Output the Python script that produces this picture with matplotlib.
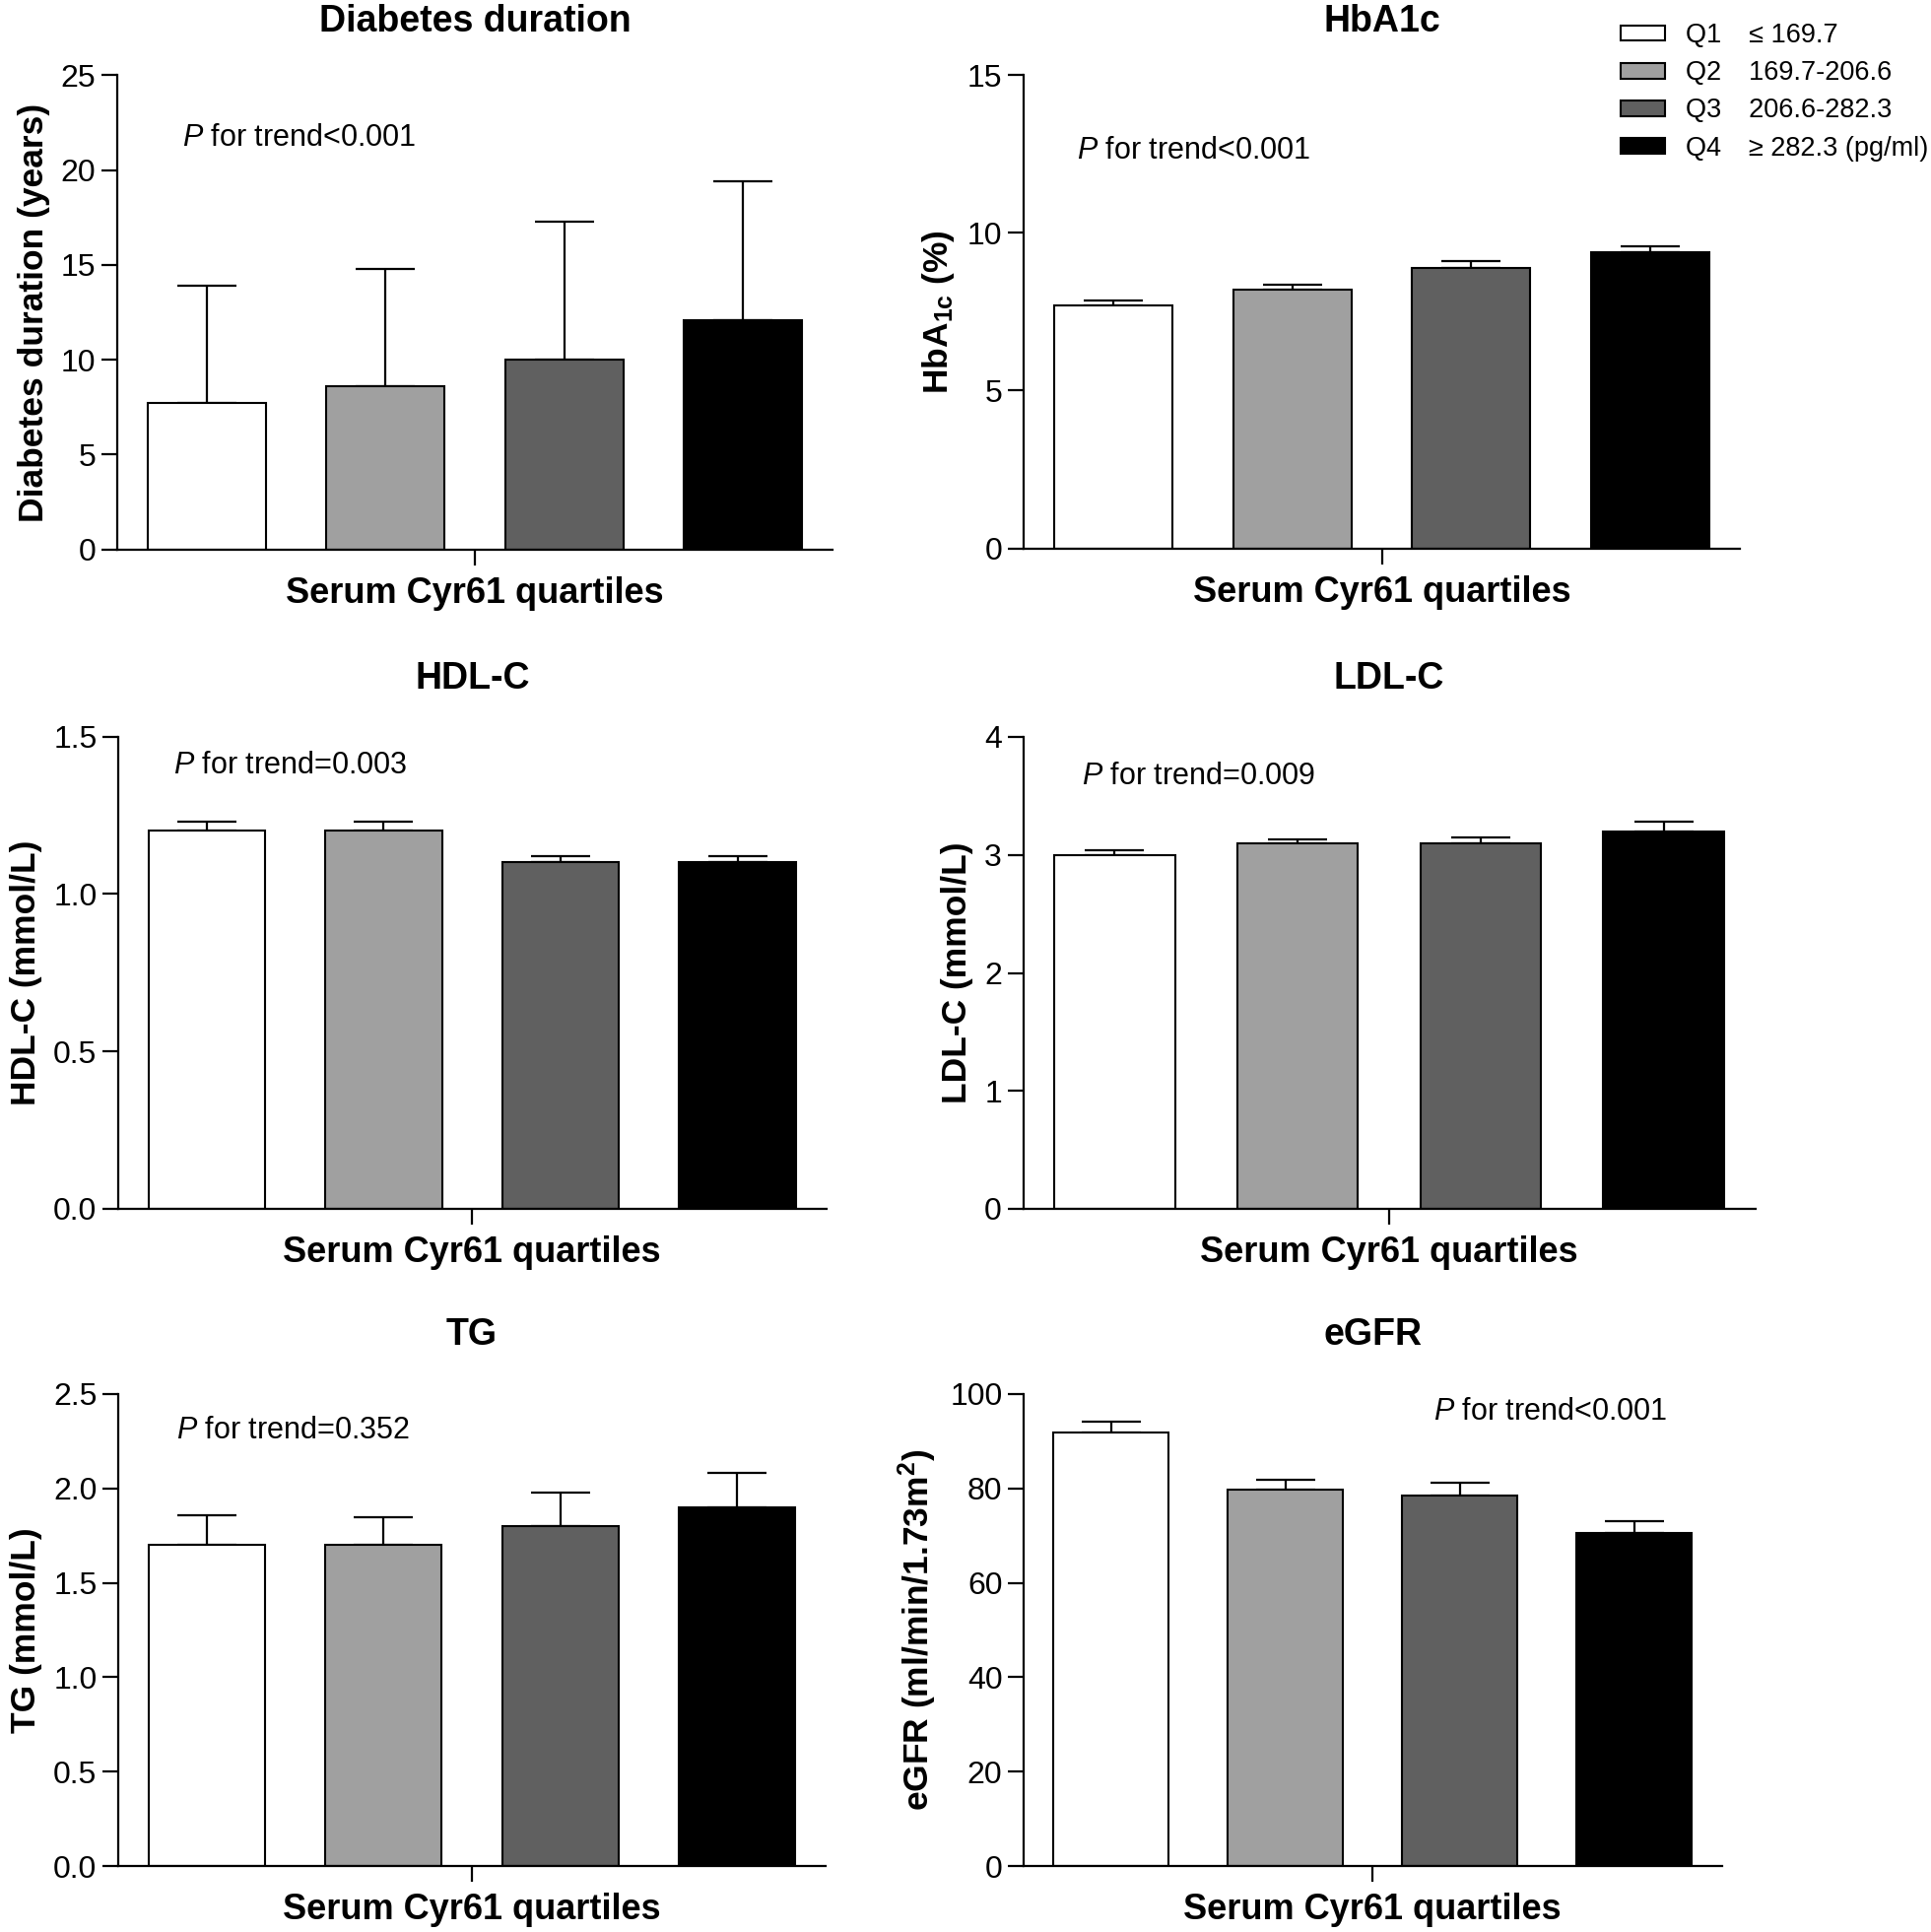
import numpy as np
import matplotlib
matplotlib.use("Agg")
import matplotlib.pyplot as plt
from matplotlib.patches import Patch

plt.rcParams['font.family'] = ['Liberation Sans', 'DejaVu Sans']
plt.rcParams['mathtext.fontset'] = 'custom'
plt.rcParams['mathtext.rm'] = 'Liberation Sans'
plt.rcParams['mathtext.bf'] = 'Liberation Sans:bold'
plt.rcParams['mathtext.it'] = 'Liberation Sans:italic'

# datos
cuartiles = ['Q1', 'Q2', 'Q3', 'Q4']
rangos = ['\u2264 169.7', '169.7-206.6', '206.6-282.3', '\u2265 282.3 (pg/ml)']
colores = ['#ffffff', '#a0a0a0', '#606060', '#000000']

dur_media = [7.7, 8.6, 10.0, 12.1]
dur_err = [6.2, 6.2, 7.3, 7.3]
hba_media = [7.7, 8.2, 8.9, 9.4]
hba_err = [0.15, 0.15, 0.2, 0.17]
hdl_media = [1.2, 1.2, 1.1, 1.1]
hdl_err = [0.03, 0.03, 0.02, 0.02]
ldl_media = [3.0, 3.1, 3.1, 3.2]
ldl_err = [0.04, 0.03, 0.05, 0.08]
tg_media = [1.7, 1.7, 1.8, 1.9]
tg_err = [0.16, 0.15, 0.18, 0.18]
egfr_media = [91.8, 79.7, 78.6, 70.6]
egfr_err = [2.4, 2.1, 2.6, 2.4]

W, H = 1960, 1961

paneles = [
    # titulo, ylabel, medias, errores, ymax, paso, texto P, caja (x0, x1, ytop, ybot), pos texto, pad titulo
    ('Diabetes duration', 'Diabetes duration (years)', dur_media, dur_err, 25, 5,
     'for trend<0.001', (119, 845, 76.5, 557.5), (0.091, 0.851), 32),
    ('HbA1c', r'HbA$_{\mathbf{1c}}$ (%)', hba_media, hba_err, 15, 5,
     'for trend<0.001', (1039, 1766, 76.5, 556.5), (0.074, 0.824), 32),
    ('HDL-C', 'HDL-C (mmol/L)', hdl_media, hdl_err, 1.5, 0.5,
     'for trend=0.003', (120, 838.5, 747.5, 1227), (0.078, 0.922), 35),
    ('LDL-C', 'LDL-C (mmol/L)', ldl_media, ldl_err, 4, 1,
     'for trend=0.009', (1038.5, 1781.5, 748, 1227), (0.080, 0.899), 35),
    ('TG', 'TG (mmol/L)', tg_media, tg_err, 2.5, 0.5,
     'for trend=0.352', (120, 838, 1415, 1894), (0.082, 0.907), 36),
    ('eGFR', r'eGFR (ml/min/1.73m$^{\mathbf{2}}$)', egfr_media, egfr_err, 100, 20,
     'for trend<0.001', (1039, 1747.5, 1415, 1894), (0.587, 0.945), 36),
]

fig = plt.figure(figsize=(W / 100, H / 100), dpi=100)

x = np.arange(len(cuartiles))
for titulo, ylab, medias, errs, ymax, paso, ptxt, caja, ppos, tpad in paneles:
    x0, x1, yt, yb = caja
    ax = fig.add_axes([x0 / W, 1 - yb / H, (x1 - x0) / W, (yb - yt) / H])
    ax.bar(x, medias, width=0.66, color=colores, edgecolor='black', linewidth=1.5, zorder=2)
    ax.errorbar(x, medias, yerr=[np.zeros(4), errs], fmt='none', ecolor='black',
                elinewidth=1.6, capsize=21.5, capthick=1.6, zorder=1)
    ax.set_xlim(-0.5, 3.5)
    ax.set_ylim(0, ymax)
    ax.set_yticks(np.arange(0, ymax + paso / 2, paso))
    ax.set_xticks([1.5])
    ax.set_xticklabels([''])
    for s in ['top', 'right']:
        ax.spines[s].set_visible(False)
    for s in ['left', 'bottom']:
        ax.spines[s].set_linewidth(1.6)
    ax.tick_params(axis='both', direction='out', length=11.5, width=1.6, labelsize=23, pad=4)
    ax.set_title(titulo, fontsize=27, fontweight='bold', pad=tpad)
    ax.set_ylabel(ylab, fontsize=25.5, fontweight='bold', labelpad=8)
    ax.set_xlabel('Serum Cyr61 quartiles', fontsize=26, fontweight='bold', labelpad=4)
    ax.text(ppos[0], ppos[1], '$\\it{P}$ ' + ptxt, transform=ax.transAxes,
            fontsize=22, ha='left', va='baseline')

handles = [Patch(facecolor=c, edgecolor='black', linewidth=1.5) for c in colores]
labels = [f'{q}   \u2009{r}' for q, r in zip(cuartiles, rangos)]
fig.legend(handles, labels, loc='upper right', bbox_to_anchor=(1.0105, 1.0),
           frameon=False, fontsize=19.5, handlelength=1.63, handleheight=0.52,
           handletextpad=0.8, labelspacing=0.45, borderaxespad=0.45)

fig.savefig('out.png', dpi=100)
